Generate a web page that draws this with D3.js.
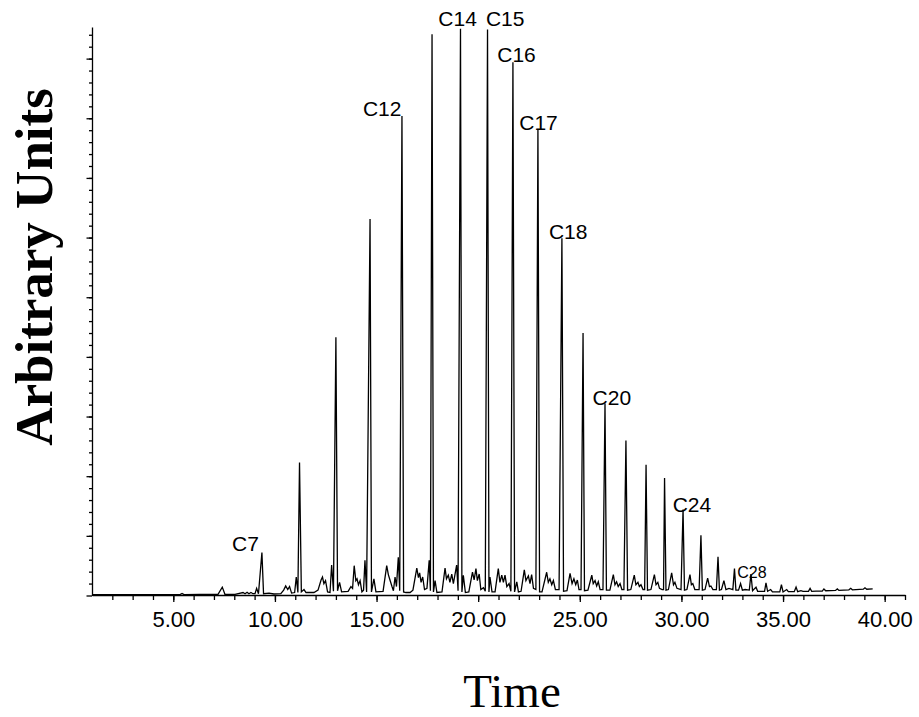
<!DOCTYPE html>
<html>
<head>
<meta charset="utf-8">
<script src="https://cdnjs.cloudflare.com/ajax/libs/d3/7.8.5/d3.min.js"></script>
<style>
    body { margin: 0; background: #fff; }
    .peak-label { font-family: "Liberation Sans", Arial, sans-serif; fill: #000; }
    .tick text { font-family: "Liberation Sans", Arial, sans-serif; }
</style>
</head>
<body>
<svg id="chart" width="919" height="717"></svg>
<script>
// chromatogram trace: [retention time (min), detector signal (arbitrary)]
var trace = [
    [1.00,0.15],[3.36,0.15],[5.08,0.15],[5.33,0.15],[5.43,0.35],[5.53,0.15],[6.31,0.18],[7.20,0.20],
    [7.41,1.4],[7.54,0.2],[8.04,0.2],[8.43,0.5],[8.53,0.3],[8.63,0.55],[8.72,0.3],[8.82,0.5],[8.92,0.3],
    [9.02,0.3],[9.10,1.2],[9.19,0.3],[9.36,7.2],[9.44,0.3],[9.71,0.4],[9.95,0.25],[10.29,0.3],[10.43,0.9],
    [10.53,1.6],[10.63,1.0],[10.72,1.5],[10.82,0.4],[10.97,0.5],[11.05,3.1],[11.13,0.5],[11.21,22.3],
    [11.30,0.6],[11.43,1.0],[11.53,0.5],[11.92,0.5],[12.12,0.9],[12.27,2.6],[12.34,3.1],[12.41,2.0],
    [12.49,2.5],[12.59,0.6],[12.71,0.5],[12.79,5.1],[12.88,0.7],[13.00,43.3],[13.08,0.8],[13.18,2.2],
    [13.28,0.6],[13.60,0.7],[13.74,1.5],[13.82,1.2],[13.90,5.0],[13.98,2.5],[14.04,2.8],[14.11,1.8],
    [14.19,2.5],[14.28,0.6],[14.36,0.9],[14.43,5.9],[14.51,0.6],[14.68,63.1],[14.75,0.6],[14.87,2.8],
    [14.97,0.6],[15.32,0.7],[15.50,5.0],[15.58,3.5],[15.66,2.6],[15.76,1.5],[15.83,0.8],[15.91,3.1],
    [15.98,1.5],[16.07,6.4],[16.14,0.8],[16.25,80.4],[16.33,0.6],[16.45,0.5],[16.65,0.5],[16.79,0.9],
    [16.98,4.6],[17.06,3.0],[17.12,3.8],[17.19,2.2],[17.27,3.1],[17.36,1.0],[17.48,1.2],[17.59,5.9],
    [17.65,0.8],[17.73,94.1],[17.80,0.6],[17.88,2.5],[17.97,0.5],[18.22,0.6],[18.37,4.6],[18.44,2.8],
    [18.53,3.4],[18.61,2.2],[18.70,3.6],[18.78,2.0],[18.94,5.1],[19.01,0.8],[19.13,95.0],[19.20,0.6],
    [19.27,3.4],[19.37,0.5],[19.54,0.6],[19.72,3.9],[19.80,2.6],[19.89,4.5],[19.96,2.5],[20.05,3.6],
    [20.13,1.0],[20.26,1.3],[20.35,0.7],[20.46,94.9],[20.53,0.6],[20.58,3.1],[20.68,0.6],[20.83,0.6],
    [20.99,4.5],[21.07,2.2],[21.16,3.4],[21.24,2.2],[21.32,3.4],[21.41,1.5],[21.52,2.0],[21.61,0.7],
    [21.71,89.4],[21.79,0.6],[21.90,2.3],[21.98,0.6],[22.11,0.7],[22.27,4.3],[22.35,2.5],[22.47,3.3],
    [22.55,2.0],[22.63,3.5],[22.72,1.2],[22.84,1.0],[22.94,78.2],[23.02,0.6],[23.14,0.6],[23.37,3.9],
    [23.45,2.2],[23.53,2.8],[23.62,1.8],[23.70,2.5],[23.80,1.0],[23.98,1.0],[24.12,59.9],[24.20,0.7],
    [24.37,0.8],[24.52,3.7],[24.62,2.0],[24.71,2.8],[24.80,1.8],[24.88,2.6],[24.96,1.0],[25.06,1.0],
    [25.16,44.0],[25.23,0.8],[25.40,0.9],[25.59,3.4],[25.66,2.0],[25.75,2.5],[25.83,1.6],[25.91,2.3],
    [26.00,1.0],[26.14,1.0],[26.24,32.2],[26.31,0.9],[26.48,0.9],[26.65,3.5],[26.73,1.8],[26.81,2.3],
    [26.89,1.5],[26.98,2.0],[27.07,1.0],[27.17,1.0],[27.27,26.0],[27.35,0.9],[27.51,1.0],[27.68,3.4],
    [27.76,1.8],[27.86,2.2],[27.93,1.5],[28.01,1.8],[28.11,1.0],[28.19,1.0],[28.26,21.9],[28.33,0.9],
    [28.50,1.0],[28.67,3.5],[28.75,1.8],[28.84,2.2],[28.92,1.2],[29.05,1.0],[29.12,1.0],[29.17,19.7],
    [29.24,0.9],[29.36,1.0],[29.52,3.8],[29.61,1.8],[29.68,2.2],[29.78,1.2],[29.98,1.0],[30.08,14.4],
    [30.15,0.9],[30.27,1.0],[30.42,3.5],[30.49,1.8],[30.56,2.0],[30.66,1.0],[30.87,1.0],[30.96,10.1],
    [31.03,0.9],[31.16,1.0],[31.29,2.9],[31.38,1.5],[31.45,1.6],[31.55,1.0],[31.72,1.0],[31.80,6.5],
    [31.87,0.9],[31.97,1.0],[32.09,2.5],[32.19,1.0],[32.34,1.2],[32.53,1.0],[32.61,4.5],[32.68,0.9],
    [32.81,0.9],[32.91,2.0],[33.00,0.9],[33.13,1.0],[33.34,0.9],[33.42,3.6],[33.50,0.8],[33.67,1.4],
    [33.75,0.7],[33.92,0.7],[34.09,0.7],[34.16,2.1],[34.24,0.7],[34.39,1.0],[34.48,0.6],[34.84,0.6],
    [34.92,1.8],[35.00,0.6],[35.18,1.0],[35.26,0.65],[35.55,0.65],[35.64,1.4],[35.72,0.65],[35.88,0.8],
    [35.98,0.7],[36.25,0.7],[36.33,1.2],[36.41,0.7],[36.62,0.75],[36.93,0.75],[37.01,1.1],[37.10,0.8],
    [37.58,0.85],[37.67,1.1],[37.75,0.85],[38.24,0.95],[38.33,1.2],[38.41,0.95],[38.95,1.05],[39.03,1.3],
    [39.12,1.05],[39.41,1.1]
];

// peak annotations (n-alkanes), anchored at time / signal
var labelText  = ["C7", "C12", "C14", "C15", "C16", "C17", "C18", "C20", "C24", "C28"];
var labelTime  = [7.89, 14.33, 18.04, 20.38, 20.94, 22.02, 23.48, 25.63, 29.57, 32.75];
var labelLevel = [7.4, 80.4, 95.5, 95.5, 89.4, 78.1, 59.7, 32.0, 14.0, 2.9];
var smallLabels = ["C28"];

// axis ticks
var xMajorTicks = [5, 10, 15, 20, 25, 30, 35, 40];
var xMinorTicks = d3.range(2, 42);
var yMajorTicks = d3.range(0, 100, 10);
var yMinorTicks = d3.range(2, 96, 2);

var svg = d3.select("#chart");

var x = d3.scaleLinear().domain([1, 41]).range([92, 905]);
var y = d3.scaleLinear().domain([0, 95.3]).range([595.5, 27]);

// x axis: minor then major ticks
svg.append("g")
    .attr("transform", "translate(0,595)")
    .call(d3.axisBottom(x).tickValues(xMinorTicks).tickSize(5).tickSizeOuter(0).tickFormat(""));
var xAxis = svg.append("g")
    .attr("transform", "translate(0,595)")
    .call(d3.axisBottom(x).tickValues(xMajorTicks).tickSize(7).tickSizeOuter(0).tickFormat(d3.format(".2f")).tickPadding(9));
xAxis.select(".domain").remove();
xAxis.selectAll(".tick text").style("font-size", "22px").attr("fill", "#000");

// y axis
svg.append("g")
    .attr("transform", "translate(92,0)")
    .call(d3.axisLeft(y).tickValues(yMinorTicks).tickSize(3).tickSizeOuter(0).tickFormat(""));
var yAxis = svg.append("g")
    .attr("transform", "translate(92,0)")
    .call(d3.axisLeft(y).tickValues(yMajorTicks).tickSize(5.5).tickSizeOuter(0).tickFormat(""));
yAxis.select(".domain").remove();

svg.selectAll(".domain, .tick line").attr("stroke", "#000").attr("stroke-width", 1.3);

// trace
var line = d3.line()
    .x(function(d){ return x(d[0]); })
    .y(function(d){ return y(d[1]); });

svg.append("path")
    .datum(trace)
    .attr("d", line)
    .attr("fill", "none")
    .attr("stroke", "#000")
    .attr("stroke-width", 1.3)
    .attr("stroke-linejoin", "miter");

// peak labels
svg.selectAll("text.peak-label")
    .data(labelText)
    .enter().append("text")
    .attr("class", "peak-label")
    .attr("x", function(d, i){ return x(labelTime[i]); })
    .attr("y", function(d, i){ return y(labelLevel[i]); })
    .style("font-size", function(d){ return smallLabels.indexOf(d) >= 0 ? "16px" : "21px"; })
    .text(function(d){ return d; });

// axis titles
svg.append("text")
    .attr("transform", "translate(52,267) rotate(-90)")
    .attr("text-anchor", "middle")
    .style("font-family", "'Liberation Serif', 'Times New Roman', serif")
    .style("font-weight", "bold")
    .style("font-size", "53px")
    .text("Arbitrary Units");

svg.append("text")
    .attr("x", 512)
    .attr("y", 707)
    .attr("text-anchor", "middle")
    .style("font-family", "'Liberation Serif', 'Times New Roman', serif")
    .style("font-size", "47px")
    .text("Time");
</script>
</body>
</html>
